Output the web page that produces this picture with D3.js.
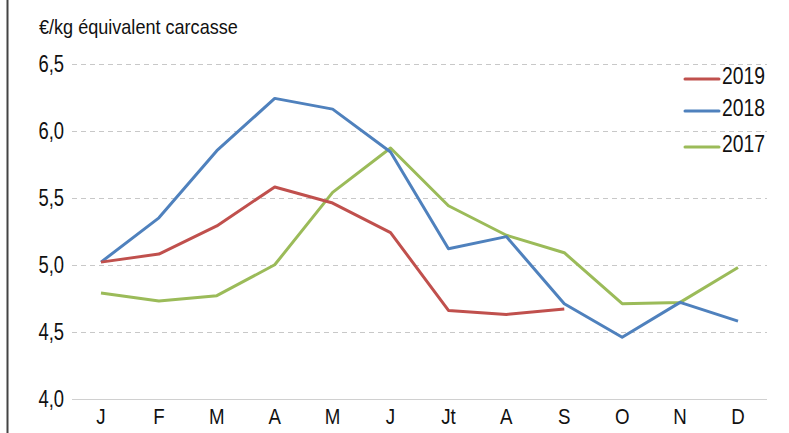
<!DOCTYPE html>
<html>
<head>
<meta charset="utf-8">
<script src="https://cdn.jsdelivr.net/npm/d3@7"></script>
<style>
  body { margin: 0; background: #fff; }
  text { font-family: "Liberation Sans", Arial, sans-serif; fill: #111; }
</style>
</head>
<body>
<div id="chart"></div>
<script>
// data
var months = ["J", "F", "M", "A", "M", "J", "Jt", "A", "S", "O", "N", "D"];
var years = ["2019", "2018", "2017"];
var v2019 = [5.02, 5.08, 5.29, 5.58, 5.46, 5.24, 4.66, 4.63, 4.67];
var v2018 = [5.02, 5.35, 5.85, 6.24, 6.16, 5.84, 5.12, 5.21, 4.71, 4.46, 4.72, 4.58];
var v2017 = [4.79, 4.73, 4.77, 5.00, 5.54, 5.87, 5.44, 5.22, 5.09, 4.71, 4.72, 4.98];
var yTicks = [4.0, 4.5, 5.0, 5.5, 6.0, 6.5];

var colors = { "2019": "#c0504d", "2018": "#4f81bd", "2017": "#9bbb59" };
var series = [
  { name: "2019", values: v2019 },
  { name: "2018", values: v2018 },
  { name: "2017", values: v2017 }
];

var W = 789, H = 433;
var svg = d3.select("#chart").append("svg")
  .attr("width", W)
  .attr("height", H);

// squeeze text horizontally (the original uses a narrow font)
function narrow(sel, k) {
  sel.each(function() {
    var len = this.getComputedTextLength();
    d3.select(this)
      .attr("textLength", len * k)
      .attr("lengthAdjust", "spacingAndGlyphs");
  });
}

// left frame line
svg.append("line")
  .attr("x1", 7.5).attr("x2", 7.5)
  .attr("y1", 0).attr("y2", H)
  .attr("stroke", "#444")
  .attr("stroke-width", 2);

var x = d3.scalePoint().domain(d3.range(12)).range([101, 738]);
var y = d3.scaleLinear().domain([4, 6.5]).range([399, 63.5]);
var left = 72, right = 767;

// gridlines
svg.append("g").selectAll("line")
  .data(yTicks.filter(d => d > 4))
  .enter().append("line")
  .attr("x1", left).attr("x2", right)
  .attr("y1", d => Math.round(y(d)) + 0.5)
  .attr("y2", d => Math.round(y(d)) + 0.5)
  .attr("stroke", "#c8c8c8")
  .attr("stroke-width", 1)
  .style("stroke-dasharray", "5,4");

// x axis line
svg.append("line")
  .attr("x1", left).attr("x2", right)
  .attr("y1", Math.round(y(4)) + 0.5).attr("y2", Math.round(y(4)) + 0.5)
  .attr("stroke", "#d0d0d0")
  .attr("stroke-width", 1);

// y tick labels
svg.append("g").selectAll("text")
  .data(yTicks)
  .enter().append("text")
  .attr("x", 64)
  .attr("y", d => y(d))
  .attr("dy", "0.36em")
  .attr("text-anchor", "end")
  .style("font-size", "23px")
  .text(d => d3.format(".1f")(d).replace(".", ","))
  .call(narrow, 0.8);

// x tick labels
svg.append("g").selectAll("text")
  .data(months)
  .enter().append("text")
  .attr("x", (d, i) => x(i))
  .attr("y", 416)
  .attr("dy", "0.36em")
  .attr("text-anchor", "middle")
  .style("font-size", "22px")
  .text(d => d)
  .call(narrow, 0.85);

// unit title
svg.append("text")
  .attr("x", 39)
  .attr("y", 34)
  .style("font-size", "21px")
  .text("€/kg équivalent carcasse")
  .call(narrow, 0.86);

// lines (draw 2017 first, 2019 on top)
var line = d3.line()
  .x((d, i) => x(i))
  .y(d => y(d));

svg.append("g").selectAll("path")
  .data(series.slice().reverse())
  .enter().append("path")
  .attr("fill", "none")
  .attr("stroke", d => colors[d.name])
  .attr("stroke-width", 3)
  .attr("stroke-linejoin", "round")
  .attr("d", d => line(d.values));

// legend
var legY = [79, 111, 147];
var leg = svg.append("g").selectAll("g")
  .data(years)
  .enter().append("g")
  .attr("transform", (d, i) => "translate(685," + legY[i] + ")");
leg.append("line")
  .attr("x1", 0).attr("x2", 34)
  .attr("y1", 0).attr("y2", 0)
  .attr("stroke", d => colors[d])
  .attr("stroke-width", 3)
  .attr("stroke-linecap", "round");
leg.append("text")
  .attr("x", 37)
  .attr("y", -3)
  .attr("dy", "0.36em")
  .style("font-size", "23px")
  .text(d => d)
  .call(narrow, 0.84);
</script>
</body>
</html>
